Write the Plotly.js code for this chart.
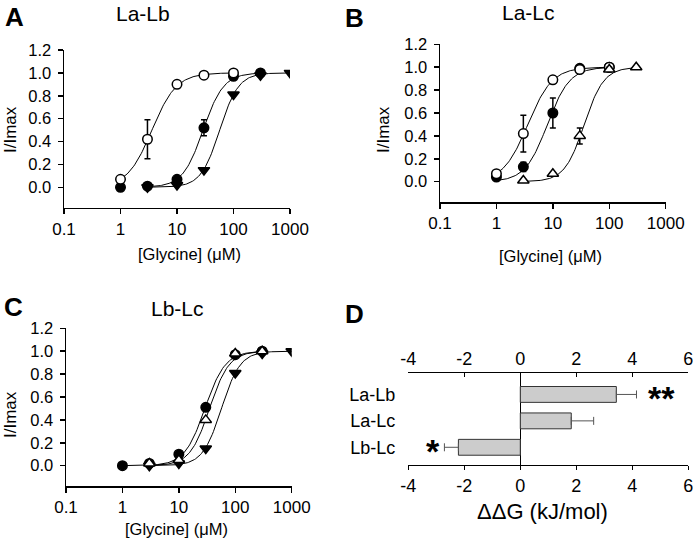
<!DOCTYPE html>
<html>
<head>
<meta charset="utf-8">
<script src="https://cdn.plot.ly/plotly-3.0.1.min.js"></script>
<style>html,body{margin:0;padding:0;background:#fff;}#chart{width:693px;height:544px;}</style>
</head>
<body>
<div id="chart"></div>
<script>
// ---------- DATA ----------
const xTickVals = [0.1, 1, 10, 100, 1000];
const xTickText = ['0.1', '1', '10', '100', '1000'];
const yTickVals = [0, 0.2, 0.4, 0.6, 0.8, 1.0, 1.2];
const yTickText = ['0.0', '0.2', '0.4', '0.6', '0.8', '1.0', '1.2'];

// Panel A: La-Lb
const aOpenX = [1, 3, 10, 30, 100];
const aOpenY = [0.07, 0.42, 0.90, 0.98, 1.00];
const aOpenErr = [0, 0.17, 0.03, 0.01, 0.01];
const aFillX = [1, 3, 10, 30, 100, 300];
const aFillY = [0.00, 0.01, 0.07, 0.52, 0.97, 1.00];
const aFillErr = [0, 0, 0.02, 0.07, 0.01, 0];
const aTriX = [3, 10, 30, 100, 300, 1000];
const aTriY = [0.00, 0.02, 0.15, 0.81, 0.98, 1.00];
const aEC50 = [3.6, 29, 57];     // open, filled, down-triangle
const aHill = [2.0, 2.4, 2.6];

// Panel B: La-Lc
const bOpenX = [1, 3, 10, 30, 100];
const bOpenY = [0.07, 0.42, 0.89, 0.98, 1.00];
const bOpenErr = [0, 0.16, 0.03, 0.01, 0];
const bFillX = [1, 3, 10, 30, 100];
const bFillY = [0.04, 0.13, 0.60, 0.99, 1.00];
const bFillErr = [0, 0.04, 0.13, 0.02, 0];
const bTriX = [3, 10, 30, 100, 300];
const bTriY = [0.01, 0.07, 0.40, 0.98, 1.00];
const bTriErr = [0, 0, 0.07, 0.02, 0];
const bEC50 = [3.6, 8.0, 36];    // open, filled, up-triangle
const bHill = [2.0, 2.2, 2.5];

// Panel C: Lb-Lc
const cFillX = [1, 3, 10, 30, 100, 300];
const cFillY = [0.00, 0.02, 0.10, 0.51, 0.97, 1.00];
const cUpX = [3, 10, 30, 100, 300];
const cUpY = [0.02, 0.05, 0.40, 0.98, 1.00];
const cDnX = [3, 10, 30, 100, 300, 1000];
const cDnY = [0.00, 0.02, 0.15, 0.81, 0.98, 1.00];
const cEC50 = [29, 35, 57];      // filled, up-triangle, down-triangle
const cHill = [2.4, 2.5, 2.6];

// Panel D: ddG
const dCats = ['La-Lb', 'La-Lc', 'Lb-Lc'];
const dVals = [3.43, 1.82, -2.21];
const dErr = [0.72, 0.80, 0.50];
const dSig = ['**', '', '*'];
const dTicks = [-4, -2, 0, 2, 4, 6];

// ---------- HELPERS ----------
const W = 693, H = 544;
const px = v => v / W;
const py = v => 1 - v / H;
const FONT = 'Liberation Sans, Arial, Helvetica, sans-serif';

function hillCurve(x0, x1, ec50, n) {
  const xs = [], ys = [];
  const N = 120;
  const l0 = Math.log10(x0), l1 = Math.log10(x1);
  for (let i = 0; i <= N; i++) {
    const x = Math.pow(10, l0 + (l1 - l0) * i / N);
    xs.push(x);
    ys.push(1 / (1 + Math.pow(ec50 / x, n)));
  }
  return [xs, ys];
}

function curve(xa, ya, xs, ec50, n) {
  const c = hillCurve(xs[0], xs[xs.length - 1], ec50, n);
  return {x: c[0], y: c[1], xaxis: xa, yaxis: ya, type: 'scatter', mode: 'lines',
          line: {color: '#000', width: 1}, hoverinfo: 'skip'};
}

function pts(xa, ya, xs, ys, symbol, fill, err, size) {
  const t = {x: xs, y: ys, xaxis: xa, yaxis: ya, type: 'scatter', mode: 'markers',
    marker: {symbol: symbol, size: size || 9.5, color: fill, line: {color: '#000', width: 1.5}}};
  if (err) t.error_y = {type: 'data', array: err, visible: true, color: '#000', thickness: 1.5, width: 3};
  return t;
}

const traces = [];
// A
traces.push(curve('x', 'y', aOpenX, aEC50[0], aHill[0]));
traces.push(curve('x', 'y', aFillX.slice(1), aEC50[1], aHill[1]));
traces.push(curve('x', 'y', aTriX, aEC50[2], aHill[2]));
traces.push(pts('x', 'y', aTriX, aTriY, 'triangle-down', '#000', null, 10));
traces.push(pts('x', 'y', aFillX, aFillY, 'circle', '#000', aFillErr));
traces.push(pts('x', 'y', aOpenX, aOpenY, 'circle', '#fff', aOpenErr));
// B
traces.push(curve('x2', 'y2', bOpenX, bEC50[0], bHill[0]));
traces.push(curve('x2', 'y2', bFillX, bEC50[1], bHill[1]));
traces.push(curve('x2', 'y2', bTriX, bEC50[2], bHill[2]));
traces.push(pts('x2', 'y2', bFillX, bFillY, 'circle', '#000', bFillErr));
traces.push(pts('x2', 'y2', bOpenX, bOpenY, 'circle', '#fff', bOpenErr));
traces.push(pts('x2', 'y2', bTriX, bTriY, 'triangle-up', '#fff', bTriErr, 10));
// C
traces.push(curve('x3', 'y3', cFillX, cEC50[0], cHill[0]));
traces.push(curve('x3', 'y3', cUpX, cEC50[1], cHill[1]));
traces.push(curve('x3', 'y3', cDnX, cEC50[2], cHill[2]));
traces.push(pts('x3', 'y3', cDnX, cDnY, 'triangle-down', '#000', null, 10));
traces.push(pts('x3', 'y3', cFillX, cFillY, 'circle', '#000', null));
traces.push(pts('x3', 'y3', cUpX, cUpY, 'triangle-up', '#fff', null, 10));
// D
const dPos = dCats.map((c, i) => dCats.length - 1 - i);
traces.push({
  type: 'bar', orientation: 'h', x: dVals, y: dPos, xaxis: 'x4', yaxis: 'y4', width: 0.6,
  marker: {color: '#cccccc', line: {color: '#333', width: 1}},
  error_x: {type: 'data', symmetric: false,
            array: dVals.map((v, i) => v > 0 ? dErr[i] : 0),
            arrayminus: dVals.map((v, i) => v < 0 ? dErr[i] : 0),
            color: '#555', thickness: 1, width: 4}
});
// invisible trace to activate the top axis
traces.push({type: 'scatter', x: [dTicks[0]], y: [0], xaxis: 'x5', yaxis: 'y4', mode: 'markers',
  marker: {opacity: 0}, hoverinfo: 'skip'});

function logAxis(d0, d1, anchor) {
  return {type: 'log', range: [-1, 3], domain: [px(d0), px(d1)], anchor: anchor,
    tickvals: xTickVals, ticktext: xTickText, ticks: 'outside', ticklen: 5, tickwidth: 1.5,
    tickcolor: '#000', showline: true, linewidth: 1.5, linecolor: '#000', showgrid: false,
    zeroline: false, tickfont: {family: FONT, size: 17, color: '#000'}};
}
function linAxis(top, bottom, anchor) {
  return {range: [-0.18, 1.2], domain: [py(bottom), py(top)], anchor: anchor,
    tickvals: yTickVals, ticktext: yTickText, ticks: 'outside', ticklen: 5, tickwidth: 1.5,
    tickcolor: '#000', showline: true, linewidth: 1.5, linecolor: '#000', showgrid: false,
    zeroline: false, tickfont: {family: FONT, size: 16.5, color: '#000'}, ticklabelstandoff: 3};
}

const layout = {
  width: W, height: H, margin: {l: 0, r: 0, t: 0, b: 0}, showlegend: false,
  paper_bgcolor: '#fff', plot_bgcolor: 'rgba(0,0,0,0)',
  font: {family: FONT, color: '#000'},
  xaxis: logAxis(64, 290, 'y'),
  yaxis: linAxis(50, 207.9, 'x'),
  xaxis2: logAxis(440, 665.7, 'y2'),
  yaxis2: linAxis(44.3, 202.3, 'x2'),
  xaxis3: logAxis(66, 291.7, 'y3'),
  yaxis3: linAxis(328.3, 486.3, 'x3'),
  xaxis4: {range: [-4, 6], domain: [px(408.3), px(688.3)], anchor: 'y4',
    tickvals: dTicks, ticktext: dTicks.map(String), ticks: 'outside', ticklen: 4, tickwidth: 1,
    tickcolor: '#000', showline: true, linewidth: 1, linecolor: '#000', showgrid: false,
    zeroline: true, zerolinecolor: '#000', zerolinewidth: 1, ticklabeloverflow: 'allow',
    tickfont: {family: FONT, size: 18, color: '#000'}},
  xaxis5: {range: [-4, 6], overlaying: 'x4', anchor: 'y4', side: 'top',
    tickvals: dTicks, ticktext: dTicks.map(String), ticks: 'inside', ticklen: 4, tickwidth: 1,
    tickcolor: '#000', showline: true, linewidth: 1, linecolor: '#000', showgrid: false,
    zeroline: false, ticklabeloverflow: 'allow',
    tickfont: {family: FONT, size: 18, color: '#000'}},
  yaxis4: {range: [-0.67, 2.8], domain: [py(465), py(373.3)], anchor: 'x4',
    tickvals: dPos, ticktext: dCats, ticks: '', showline: false, showgrid: false, zeroline: false,
    tickfont: {family: FONT, size: 18, color: '#000'}, ticklabelstandoff: 12},
  annotations: []
};

function ann(text, x, y, size, opts) {
  return Object.assign({text: text, x: px(x), y: py(y), xref: 'paper', yref: 'paper',
    xanchor: 'center', yanchor: 'middle', showarrow: false,
    font: {family: FONT, size: size, color: '#000'}}, opts || {});
}
const A = layout.annotations;
A.push(ann('<b>A</b>', 14, 0, 26, {yanchor: 'top'}));
A.push(ann('<b>B</b>', 354, 1, 26, {yanchor: 'top'}));
A.push(ann('<b>C</b>', 13, 307, 26));
A.push(ann('<b>D</b>', 354, 314, 26));
A.push(ann('La-Lb', 143, 13, 21));
A.push(ann('La-Lc', 528, 12, 21));
A.push(ann('Lb-Lc', 177, 308.5, 21));
A.push(ann('[Glycine] (μM)', 189, 254.5, 16.5));
A.push(ann('[Glycine] (μM)', 550.5, 255.5, 16.5));
A.push(ann('[Glycine] (μM)', 176, 529, 16.5));
A.push(ann('I/Imax', 10, 130, 17, {textangle: -90}));
A.push(ann('I/Imax', 383, 130, 17, {textangle: -90}));
A.push(ann('I/Imax', 10, 415, 17, {textangle: -90}));
A.push(ann('ΔΔG (kJ/mol)', 542.5, 511, 22));
// significance stars
dSig.forEach((s, i) => {
  if (!s) return;
  const v = dVals[i];
  const x = v > 0 ? v + dErr[i] + 0.9 : v - dErr[i] - 0.42;
  A.push({text: '<b>' + s + '</b>', x: x, y: dPos[i], xref: 'x4', yref: 'y4', showarrow: false,
    xanchor: 'center', yanchor: 'middle', yshift: -4, font: {family: FONT, size: 34, color: '#000'}});
});

Plotly.newPlot('chart', traces, layout, {staticPlot: true, displayModeBar: false});
</script>
</body>
</html>
